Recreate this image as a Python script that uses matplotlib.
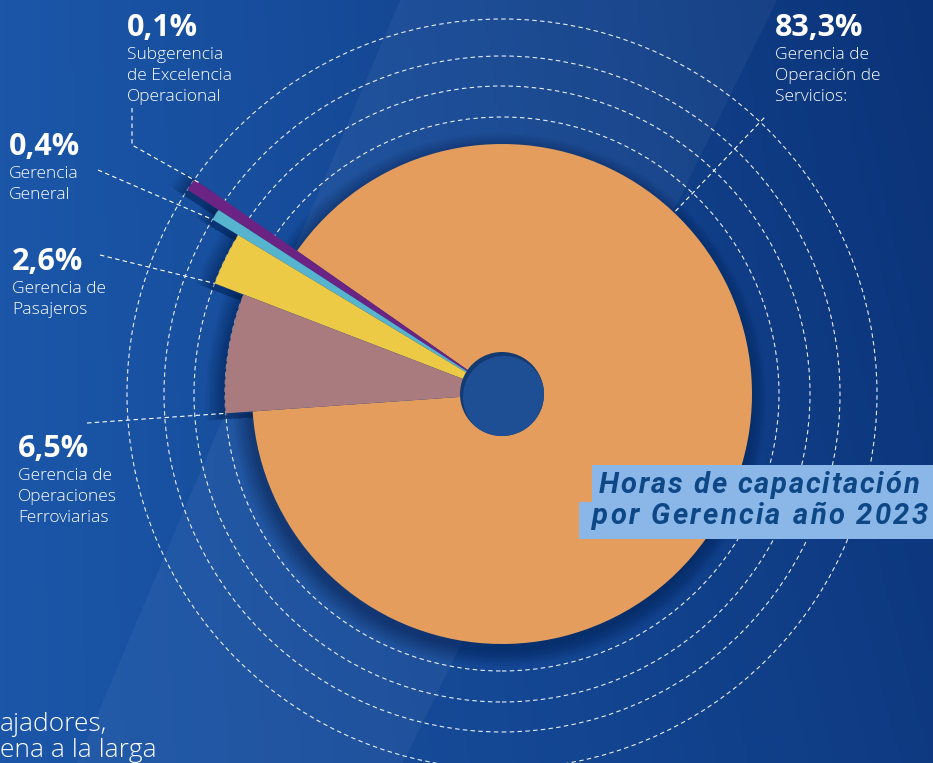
import numpy as np
import matplotlib.pyplot as plt
from matplotlib.patches import Circle, Rectangle, Polygon, Wedge

W, H = 933, 763

# Horas de capacitación por Gerencia, año 2023
areas = ["Gerencia de\nOperación de\nServicios:",
         "Subgerencia\nde Excelencia\nOperacional",
         "Gerencia\nGeneral",
         "Gerencia de\nPasajeros",
         "Gerencia de\nOperaciones\nFerroviarias"]
share = [83.3, 0.1, 0.4, 2.6, 6.5]
share_txt = ["83,3%", "0,1%", "0,4%", "2,6%", "6,5%"]

# style
colors = ["#E59D5D", "#6B2384", "#56B4CF", "#ECCA45", "#A97B7E"]
slice_r = [250, 375, 338, 308, 277]      # each slice sticks out to its own ring
label_xy = [(775, 36), (127, 36), (9, 155), (12, 270), (18, 457)]  # x, baseline of the %
cx, cy = 502, 394                          # pie centre (pixels from top-left)

def Y(y):
    return H - y

fig = plt.figure(figsize=(W / 100, H / 100), dpi=100)
ax = fig.add_axes([0, 0, 1, 1])

# background: blue gradient, darker to the right/top
gx, gy = np.meshgrid(np.linspace(0, 1, 240), np.linspace(0, 1, 200))
t = np.clip(gx ** 1.1 * (0.8 + 0.2 * (1 - gy)), 0, 1)[..., None]
c_left = np.array([27, 86, 168]) / 255
c_right = np.array([11, 51, 120]) / 255
ax.imshow(c_left * (1 - t) + c_right * t, extent=(0, W, 0, H), origin="upper",
          aspect="auto", zorder=0)
ax.add_patch(Polygon([(400, Y(0)), (777, Y(0)), (403, Y(H)), (77, Y(H))],
                     closed=True, color="white", alpha=0.045, lw=0, zorder=1))

# tiny slices get a minimum width so they stay visible
display = np.maximum(share, 0.5)
wedges, _ = ax.pie(display, colors=colors, startangle=184, counterclock=True,
                   center=(cx, Y(cy)), radius=1, wedgeprops=dict(linewidth=0))
for w, r in zip(wedges, slice_r):
    w.set_radius(r)
    w.set_zorder(4)

# soft drop shadow under every slice
for w in wedges:
    for k in range(14):
        ax.add_patch(Wedge((cx - 3, Y(cy) - 6), w.r + k * 1.3, w.theta1 - 1, w.theta2,
                           color="#061638", alpha=0.03, lw=0, zorder=3))

# dashed guide rings at the radius of the small slices
for r in slice_r[1:]:
    ax.add_patch(Circle((cx, Y(cy)), r, fill=False, ec="white", lw=0.8,
                        ls=(0, (4, 3)), alpha=0.9, zorder=2))

# centre hole with a little inner shadow
ax.add_patch(Circle((cx, Y(cy)), 42, color="#143a72", lw=0, zorder=6))
hole = Circle((cx + 2, Y(cy) - 3), 41, color="#1E4E94", lw=0, zorder=7)
ax.add_patch(hole)
hole.set_clip_path(Circle((cx, Y(cy)), 42, transform=ax.transData))

# leader lines
dash = dict(color="white", lw=0.8, ls=(0, (4, 3)), zorder=5)
def edge_pt(w, ang, shrink=0.0):
    a = np.deg2rad(ang)
    r = w.r - shrink
    return cx + r * np.cos(a), Y(cy) + r * np.sin(a)

a = np.deg2rad(46.5)
ax.plot([cx + 252 * np.cos(a), cx + 383 * np.cos(a)],
        [Y(cy) + 252 * np.sin(a), Y(cy) + 383 * np.sin(a)], **dash)
px, py = edge_pt(wedges[1], wedges[1].theta1, 8)
ax.plot([132, 132, px], [Y(108), Y(145), py], **dash)
px, py = edge_pt(wedges[2], wedges[2].theta2)
ax.plot([98, px], [Y(170), py], **dash)
px, py = edge_pt(wedges[3], wedges[3].theta2)
ax.plot([100, px], [Y(255), py], **dash)
px, py = edge_pt(wedges[4], wedges[4].theta2)
ax.plot([87, px], [Y(423), py], **dash)

# labels
for (x, yb), num, name in zip(label_xy, share_txt, areas):
    ax.text(x, Y(yb), num, color="white", fontsize=22, fontweight="bold",
            family="Open Sans", ha="left", va="baseline", zorder=8)
    for i, line in enumerate(name.split("\n")):
        ax.text(x, Y(yb + 23 + 21 * i), line, color="white", fontsize=12.5,
                fontweight="light", family="Open Sans", ha="left",
                va="baseline", zorder=8)

# title box, text drawn letter by letter to get the wide tracking
renderer = fig.canvas.get_renderer()
def tracked(x, y, s, gap, **kw):
    for ch in s:
        t = ax.text(x, y, ch, **kw)
        w = t.get_window_extent(renderer).width if ch != " " else 7.5
        x += w + gap

box = "#8AB6E8"
ax.add_patch(Rectangle((592, Y(502)), W - 592, 37, color=box, lw=0, zorder=8))
ax.add_patch(Rectangle((579, Y(539)), W - 579, 37, color=box, lw=0, zorder=8))
title_kw = dict(color="#0D4786", fontsize=21, fontweight="bold", style="italic",
                family="Roboto", ha="left", va="baseline", zorder=9)
tracked(599, Y(493), "Horas de capacitación", 1.8, **title_kw)
tracked(592, Y(524), "por Gerencia año 2023", 2.3, **title_kw)

# body text running off the page (visible fragment only)
ax.text(0, Y(731), "ajadores,", color="white", fontsize=19, fontweight="light",
        family="Open Sans", ha="left", va="baseline", zorder=8)
ax.text(0, Y(757), "ena a la larga", color="white", fontsize=19,
        fontweight="light", family="Open Sans", ha="left", va="baseline", zorder=8)

ax.set_xlim(0, W)
ax.set_ylim(0, H)
ax.set_aspect("equal")
ax.axis("off")

plt.savefig("out.png", dpi=100)
plt.close()
